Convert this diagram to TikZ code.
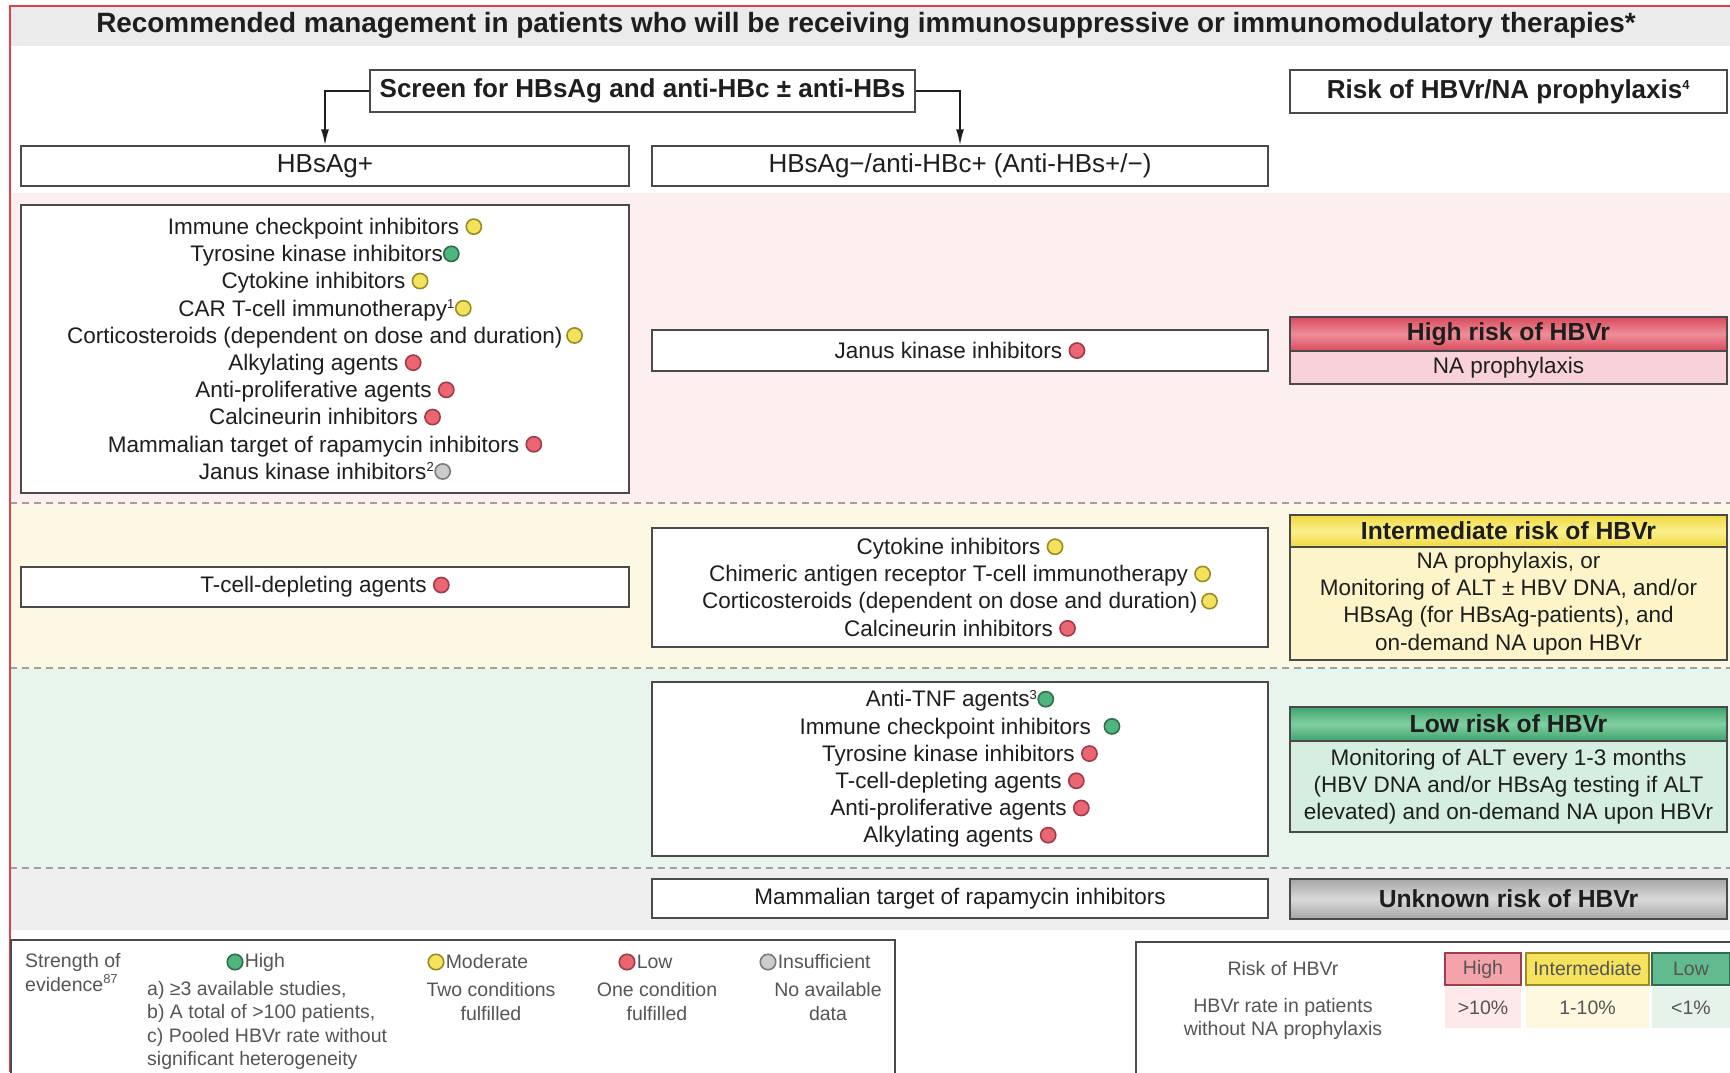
\documentclass[tikz,border=0pt]{standalone}
\usepackage{fontspec}
\setmainfont{Liberation Sans}
\usetikzlibrary{arrows.meta,positioning,calc}
\definecolor{boxc}{HTML}{4A4A4A}
\definecolor{txtc}{HTML}{1E1E1E}
\definecolor{lgc}{HTML}{555555}
\definecolor{titlebg}{HTML}{EBEBEB}
\definecolor{pinkbg}{HTML}{FDEEEF}
\definecolor{yelbg}{HTML}{FDF8E3}
\definecolor{grnbg}{HTML}{E8F5ED}
\definecolor{graybg}{HTML}{EFEFEF}
\definecolor{dashc}{HTML}{A0A0A0}
\definecolor{framec}{HTML}{E0404C}
\definecolor{dotY}{HTML}{F3E35C}\definecolor{dotYd}{HTML}{9A8C22}
\definecolor{dotG}{HTML}{4FB67E}\definecolor{dotGd}{HTML}{2E6E4C}
\definecolor{dotR}{HTML}{EC6672}\definecolor{dotRd}{HTML}{A03A48}
\definecolor{dotN}{HTML}{CCCCCC}\definecolor{dotNd}{HTML}{7A7A7A}
\definecolor{hiT}{HTML}{D84A5C}\definecolor{hiM}{HTML}{EF8E98}\definecolor{hiB}{HTML}{F8D2D8}
\definecolor{imT}{HTML}{EFD940}\definecolor{imM}{HTML}{FBF08C}\definecolor{imB}{HTML}{FDF5C9}
\definecolor{loT}{HTML}{3EA46C}\definecolor{loM}{HTML}{80CFA2}\definecolor{loB}{HTML}{D5EEE0}
\definecolor{unT}{HTML}{A6A6A6}\definecolor{unM}{HTML}{D9D9D9}
\definecolor{swHf}{HTML}{F4A3AB}\definecolor{swHd}{HTML}{9E3E4C}
\definecolor{swIf}{HTML}{F5E35E}\definecolor{swId}{HTML}{9E8C1E}
\definecolor{swLf}{HTML}{62BB8E}\definecolor{swLd}{HTML}{2F6A52}
\definecolor{cellH}{HTML}{FDE8EA}\definecolor{cellI}{HTML}{FEF8DF}\definecolor{cellL}{HTML}{E5F3EB}
\tikzset{
  evY/.style={draw=dotYd, fill=dotY, line width=1.6pt},
  evG/.style={draw=dotGd, fill=dotG, line width=1.6pt},
  evR/.style={draw=dotRd, fill=dotR, line width=1.6pt},
  evN/.style={draw=dotNd, fill=dotN, line width=1.6pt},
}
\newcommand{\evd}[1]{\tikz[baseline={(0pt,-7.8pt)}]\draw[ev#1] (0pt,0pt) circle[radius=7.6pt];}
\newcommand{\sups}[1]{\textsuperscript{\fontsize{13}{13}\selectfont #1}}
\begin{document}
\begin{tikzpicture}[x=1pt,y=-1pt,
  txt/.style={font=\fontsize{22.5}{27.2}\selectfont, text=txtc, align=center},
  box/.style={draw=boxc, line width=1.5pt, fill=white, inner sep=0pt, txt},
  bbox/.style={box, font=\fontsize{26}{30}\selectfont\bfseries},
  hdr/.style={draw=boxc, line width=1.5pt, inner sep=0pt, text=txtc,
    font=\fontsize{24.7}{29}\selectfont\bfseries, minimum width=437pt},
  body/.style={draw=boxc, line width=1.5pt, inner sep=0pt, txt, minimum width=437pt},
  lg/.style={font=\fontsize{19.5}{23.3}\selectfont, text=lgc, inner sep=0pt},
  ldot/.style={circle, minimum size=15.5pt, inner sep=0pt},
  dashln/.style={draw=dashc, line width=2pt, dash pattern=on 7pt off 5pt},
  arr/.style={draw=txtc, line width=1.8pt, -{Latex[length=16pt,width=8pt]}},
]
\useasboundingbox (0,0) rectangle (1730,1072);
\fill[white] (0,0) rectangle (1730,1072);
% bands
\fill[titlebg] (10,6) rectangle (1730,46);
\fill[pinkbg] (10,193) rectangle (1730,503);
\fill[yelbg] (10,503) rectangle (1730,668);
\fill[grnbg] (10,668) rectangle (1730,868);
\fill[graybg] (10,868) rectangle (1730,930);
\draw[dashln] (10,503) -- (1730,503);
\draw[dashln] (10,668) -- (1730,668);
\draw[dashln] (10,868) -- (1730,868);
\draw[framec, line width=2pt] (10,1072) -- (10,6) -- (1730,6);

% title
\node[font=\fontsize{27.9}{32}\selectfont\bfseries, text=txtc] (title) at (866,25)
  {Recommended management in patients who will be receiving immunosuppressive or immunomodulatory therapies*};

% top boxes
\node[bbox, minimum width=545pt, minimum height=42pt] (screen) at (642.5,91)
  {Screen for HBsAg and anti-HBc ± anti-HBs};
\node[bbox, minimum width=437pt, minimum height=43pt] (riskh) at (1508.5,91.5)
  {Risk of HBVr/NA prophylaxis\sups{4}};
\node[box, font=\fontsize{26}{30}\selectfont, minimum width=608pt, minimum height=40pt] (hbsp) at (325,166) {HBsAg+};
\node[box, font=\fontsize{26}{30}\selectfont, minimum width=616pt, minimum height=40pt] (hbsn) at (960,166)
  {HBsAg−/anti-HBc+ (Anti-HBs+/−)};
\draw[arr] (screen.west) -| (hbsp.north);
\draw[arr] (screen.east) -| (hbsn.north);

% high row
\node[box, minimum width=608pt, minimum height=288pt] (lhigh) at (325,349)
  {Immune checkpoint inhibitors \evd{Y}\\
   Tyrosine kinase inhibitors\evd{G}\\
   Cytokine inhibitors \evd{Y}\\
   CAR T-cell immunotherapy\sups{1}\evd{Y}\\
   Corticosteroids (dependent on dose and duration)\,\evd{Y}\\
   Alkylating agents \evd{R}\\
   Anti-proliferative agents \evd{R}\\
   Calcineurin inhibitors \evd{R}\\
   Mammalian target of rapamycin inhibitors \evd{R}\\
   Janus kinase inhibitors\sups{2}\evd{N}};
\node[box, minimum width=616pt, minimum height=41pt] (mhigh) at (960,350.5)
  {Janus kinase inhibitors \evd{R}};
\node[hdr, minimum height=34pt, top color=hiT, bottom color=hiT, middle color=hiM] (highH) at (1508.5,334) {High risk of HBVr};
\node[body, minimum height=33pt, fill=hiB] (highB) at (1508.5,367.5) {NA prophylaxis};

% intermediate row
\node[box, minimum width=608pt, minimum height=40pt] (lint) at (325,587)
  {T-cell-depleting agents \evd{R}};
\node[box, minimum width=616pt, minimum height=119pt] (mint) at (960,587.5)
  {Cytokine inhibitors \evd{Y}\\
   Chimeric antigen receptor T-cell immunotherapy \evd{Y}\\
   Corticosteroids (dependent on dose and duration)\,\evd{Y}\\
   Calcineurin inhibitors \evd{R}};
\node[hdr, minimum height=32pt, top color=imT, bottom color=imT, middle color=imM] (intH) at (1508.5,531) {Intermediate risk of HBVr};
\node[body, minimum height=113pt, fill=imB] (intB) at (1508.5,603.5)
  {NA prophylaxis, or\\
   Monitoring of ALT ± HBV DNA, and/or\\
   HBsAg (for HBsAg-patients), and\\
   on-demand NA upon HBVr};

% low row
\node[box, minimum width=616pt, minimum height=174pt] (mlow) at (960,769)
  {Anti-TNF agents\sups{3}\evd{G}\\
   Immune checkpoint inhibitors \ \evd{G}\\
   Tyrosine kinase inhibitors \evd{R}\\
   T-cell-depleting agents \evd{R}\\
   Anti-proliferative agents \evd{R}\\
   Alkylating agents \evd{R}};
\node[hdr, minimum height=34pt, top color=loT, bottom color=loT, middle color=loM] (lowH) at (1508.5,724) {Low risk of HBVr};
\node[body, minimum height=91pt, fill=loB] (lowB) at (1508.5,786.5)
  {Monitoring of ALT every 1-3 months\\
   (HBV DNA and/or HBsAg testing if ALT\\
   elevated) and on-demand NA upon HBVr};

% unknown row
\node[box, minimum width=616pt, minimum height=39pt] (munk) at (960,898.5)
  {Mammalian target of rapamycin inhibitors};
\node[hdr, minimum height=40pt, top color=unT, bottom color=unT, middle color=unM] (unkH) at (1508.5,899) {Unknown risk of HBVr};

% legend left
\draw[boxc, line width=1.5pt] (11,1080) -- (11,940) -- (895,940) -- (895,1080);
\node[lg, anchor=west] (soe1) at (25,962) {Strength of};
\node[lg, anchor=west] (soe2) at (25,983) {evidence\sups{87}};
\node[ldot, evG] (dg) at (235,962) {};
\node[lg, anchor=west] (lhi) at ([xshift=1pt]dg.east) {High};
\node[lg, anchor=west] (c1) at (147,990) {a) ≥3 available studies,};
\node[lg, anchor=west] (c2) at (147,1013) {b) A total of >100 patients,};
\node[lg, anchor=west] (c3) at (147,1037) {c) Pooled HBVr rate without};
\node[lg, anchor=west] (c4) at (147,1060) {significant heterogeneity};
\node[ldot, evY] (dy) at (436,962) {};
\node[lg, anchor=west] (lmo) at ([xshift=1pt]dy.east) {Moderate};
\node[lg, align=center] (lmo2) at (491,1001.5) {Two conditions\\fulfilled};
\node[ldot, evR] (dr) at (627,962) {};
\node[lg, anchor=west] (llo) at ([xshift=1pt]dr.east) {Low};
\node[lg, align=center] (llo2) at (657,1001.5) {One condition\\fulfilled};
\node[ldot, evN] (dn) at (768,962) {};
\node[lg, anchor=west] (lin) at ([xshift=1pt]dn.east) {Insufficient};
\node[lg, align=center] (lin2) at (828,1001.5) {No available\\data};

% legend right
\draw[boxc, line width=1.5pt] (1136,1080) -- (1136,942) -- (1735,942);
\node[lg] (rk1) at (1283,969) {Risk of HBVr};
\node[lg, align=center] (rk2) at (1283,1019) {HBVr rate in patients\\without NA prophylaxis};
\node[lg, draw=swHd, fill=swHf, line width=1.5pt, minimum width=76pt, minimum height=32pt] (swh) at (1483,969) {High};
\node[lg, draw=swId, fill=swIf, line width=1.5pt, minimum width=123pt, minimum height=32pt] (swi) at (1587.5,969) {Intermediate};
\node[lg, draw=swLd, fill=swLf, line width=1.5pt, minimum width=78pt, minimum height=32pt] (swl) at (1691,969) {Low};
\node[lg, fill=cellH, minimum width=76pt, minimum height=41pt] (vh) at (1483,1007.5) {>10\%};
\node[lg, fill=cellI, minimum width=123pt, minimum height=41pt] (vi) at (1587.5,1007.5) {1-10\%};
\node[lg, fill=cellL, minimum width=78pt, minimum height=41pt] (vl) at (1691,1007.5) {<1\%};
\end{tikzpicture}
\end{document}
